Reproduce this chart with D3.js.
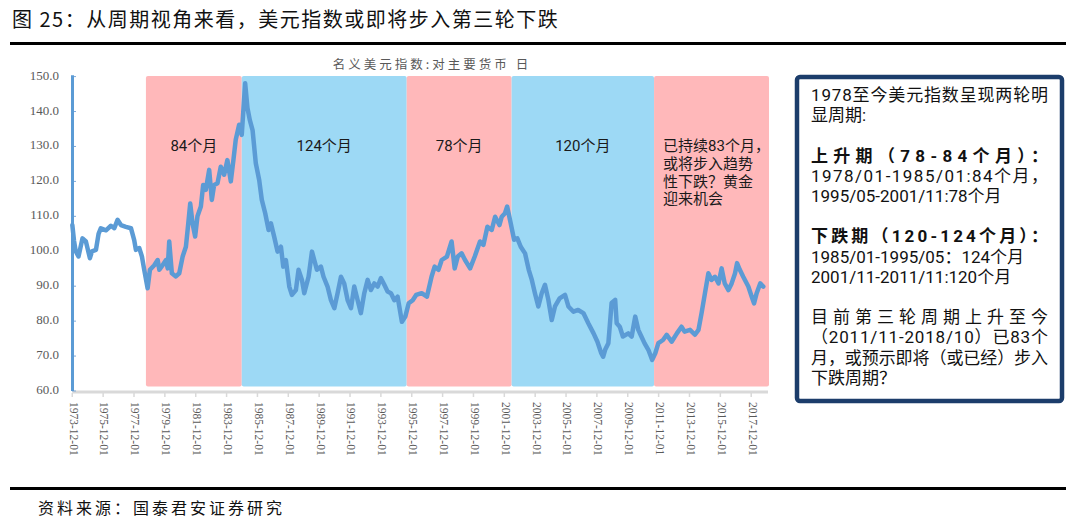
<!DOCTYPE html>
<html><head><meta charset="utf-8">
<script src="https://cdn.jsdelivr.net/npm/d3@7"></script>
<style>html,body{margin:0;padding:0;background:#fff;}svg{display:block;}</style>
</head><body>
<script>
// ---------- data ----------
const years = [1973.92,1974.03,1974.14,1974.32,1974.58,1974.8,1975.06,1975.19,1975.45,1975.62,1975.77,1976.1,1976.42,1976.64,1976.85,1977.07,1977.39,1977.72,1977.93,1978.04,1978.26,1978.43,1978.58,1978.8,1978.95,1979.23,1979.45,1979.56,1979.77,1979.99,1980.1,1980.2,1980.37,1980.63,1980.85,1981.07,1981.28,1981.39,1981.56,1981.71,1981.88,1982.03,1982.25,1982.4,1982.57,1982.79,1982.96,1983.11,1983.33,1983.54,1983.76,1983.97,1984.19,1984.36,1984.51,1984.73,1984.9,1985.12,1985.27,1985.42,1985.6,1985.81,1986.03,1986.2,1986.42,1986.64,1986.79,1987.0,1987.22,1987.44,1987.59,1987.76,1987.98,1988.15,1988.41,1988.58,1988.8,1988.95,1989.23,1989.45,1989.6,1989.77,1990.03,1990.2,1990.46,1990.68,1990.9,1991.11,1991.33,1991.54,1991.76,1991.98,1992.19,1992.41,1992.62,1992.84,1993.06,1993.27,1993.49,1993.71,1993.92,1994.14,1994.35,1994.57,1994.79,1995.0,1995.28,1995.5,1995.72,1995.98,1996.2,1996.56,1996.9,1997.2,1997.4,1997.65,1997.86,1998.2,1998.5,1998.7,1998.9,1999.15,1999.37,1999.7,2000.0,2000.34,2000.56,2000.82,2001.1,2001.32,2001.6,2001.75,2001.96,2002.1,2002.33,2002.55,2002.76,2002.98,2003.26,2003.5,2003.7,2003.9,2004.12,2004.34,2004.55,2004.77,2004.99,2005.2,2005.5,2005.85,2006.07,2006.4,2006.7,2007.04,2007.36,2007.7,2007.95,2008.2,2008.32,2008.45,2008.66,2008.87,2009.1,2009.2,2009.4,2009.6,2009.95,2010.17,2010.4,2010.6,2010.8,2011.0,2011.25,2011.5,2011.7,2011.9,2012.2,2012.44,2012.76,2013.1,2013.4,2013.6,2013.95,2014.27,2014.5,2014.7,2014.92,2015.14,2015.35,2015.57,2015.8,2016.0,2016.2,2016.44,2016.65,2016.87,2017.0,2017.18,2017.4,2017.73,2017.95,2018.1,2018.27,2018.5,2018.7];
const usdIndex = [107.5,103,100,98.5,103.7,102.8,98,100,100.4,105,106.6,106,107.3,106.6,109,107.5,107,106.6,103.2,100.4,100.9,98.5,94.7,89.4,94.7,96,97.5,94.7,96,97.5,95.1,102.8,93.7,92.8,93.7,98.5,101.3,106,113.7,108,104.2,110,112.8,119,117.6,123.3,114.7,119,119.5,124.2,121.9,126.1,120,126.1,131.9,136.2,133.3,148.1,141,137.6,134.7,125.2,120.4,114.7,110.9,106.1,108,104.2,99.9,101.3,95.6,97.5,89.9,87.5,88.9,94.7,91.8,88,92.7,99.9,97.5,94.7,95.6,92.7,89.9,86,83.7,88,92.7,90.8,86,83.7,89.9,86,82.3,88,91.8,88.9,90.8,89.9,92.3,90.4,88.5,88,86,87,79.8,81.3,85.1,86,87.5,88,87,92.7,95.6,94.7,97.5,98.5,102.8,95.1,98.5,99.4,97.5,95.1,98.5,102.8,101.8,107,106.1,109.9,107.5,109.9,110.9,112.8,108,103.3,103.7,101.3,99.4,94.7,91.8,88,84.2,88,90.4,86.1,80.3,84.2,86.5,87.5,84.2,82.7,83.2,82.3,79.4,76.5,74.1,70.8,69.8,71.8,73.7,85.2,86.1,79.4,78.4,75.6,76.5,75.6,81.3,77.5,75.6,73.7,71.8,68.9,70.8,73.7,74.6,76.1,74.1,76.5,78.4,77,77.5,76.1,77.5,82.3,88,93.7,91.8,92.7,90.8,95.1,90.8,88.9,90.8,93.7,96.6,94.7,92.7,89.9,87,85.1,88,90.8,89.9];

const xTickLabels = ["1973-12-01","1975-12-01","1977-12-01","1979-12-01","1981-12-01","1983-12-01","1985-12-01","1987-12-01","1989-12-01","1991-12-01","1993-12-01","1995-12-01","1997-12-01","1999-12-01","2001-12-01","2003-12-01","2005-12-01","2007-12-01","2009-12-01","2011-12-01","2013-12-01","2015-12-01","2017-12-01"];
const yTicks = [60,70,80,90,100,110,120,130,140,150];

const bandStart = [1978.69,1984.90,1995.59,2002.39,2011.62];
const bandEnd   = [1984.90,1995.59,2002.39,2011.62,2019.07];
const bandType  = ["up","down","up","down","up"];
const bandLabel = [["84个月"],["124个月"],["78个月"],["120个月"],["已持续83个月，","或将步入趋势","性下跌？黄金","迎来机会"]];

const titleText = "图 25：从周期视角来看，美元指数或即将步入第三轮下跌";
const subTitle = "名义美元指数:对主要货币 日";
const sourceText = "资料来源：国泰君安证券研究";
const noteLines = [
  {t:"1978至今美元指数呈现两轮明", b:false, j:true},
  {t:"显周期:", b:false, j:false},
  {t:"", b:false, j:false},
  {t:"上升期（78-84个月）：", b:true, j:true},
  {t:"1978/01-1985/01:84个月，", b:false, j:true},
  {t:"1995/05-2001/11:78个月", b:false, j:false},
  {t:"", b:false, j:false},
  {t:"下跌期（120-124个月）：", b:true, j:true},
  {t:"1985/01-1995/05：124个月", b:false, j:false},
  {t:"2001/11-2011/11:120个月", b:false, j:false},
  {t:"", b:false, j:false},
  {t:"目前第三轮周期上升至今", b:false, j:true},
  {t:"（2011/11-2018/10）已83个", b:false, j:true},
  {t:"月，或预示即将（或已经）步入", b:false, j:true},
  {t:"下跌周期？", b:false, j:false}
];

// ---------- drawing ----------
const W = 1080, H = 526;
const svg = d3.select("body").append("svg").attr("width", W).attr("height", H);
svg.append("rect").attr("width", W).attr("height", H).attr("fill", "#fff");

const sans = "'Noto Sans CJK SC','Noto Sans',sans-serif";
const tight = "Roboto,'Noto Sans CJK SC',sans-serif";
const serif = "'Liberation Serif','DejaVu Serif',serif";

// title
svg.append("text").attr("x", 12).attr("y", 27).attr("font-family", sans)
  .attr("font-size", 20).attr("fill", "#111").attr("letter-spacing", 1.5).text(titleText);
svg.append("rect").attr("x", 10).attr("y", 42).attr("width", 1056).attr("height", 3).attr("fill", "#000");

// footer
svg.append("rect").attr("x", 10).attr("y", 487).attr("width", 1056).attr("height", 3).attr("fill", "#000");
svg.append("text").attr("x", 38).attr("y", 514).attr("font-family", sans)
  .attr("font-size", 16).attr("letter-spacing", 3).attr("fill", "#111").text(sourceText);

// scales
const x = d3.scaleLinear().domain([1973.92, 2019.07]).range([72.33, 769]);
const y = d3.scaleLinear().domain([60, 150]).range([391, 76.6]);

// bands
const bandColor = {up: "#ffb8ba", down: "#9dd9f5"};
svg.append("g").selectAll("rect").data(bandStart).join("rect")
  .attr("x", (d) => x(d))
  .attr("width", (d, i) => x(bandEnd[i]) - x(d))
  .attr("y", y(150.15))
  .attr("height", y(61.3) - y(150.15))
  .attr("rx", 2)
  .attr("fill", (d, i) => bandColor[bandType[i]]);

// band labels
bandLabel.forEach((lines, i) => {
  const multi = lines.length > 1;
  const cx = multi ? x(bandStart[i]) + 9 : (x(bandStart[i]) + x(bandEnd[i])) / 2;
  lines.forEach((ln, k) => {
    svg.append("text").attr("font-family", tight).attr("font-size", 15)
      .attr("fill", "#1a1a1a").attr("text-anchor", multi ? "start" : "middle")
      .attr("x", cx).attr("y", 151 + k * 17.8).text(ln);
  });
});

// subtitle
svg.append("text").attr("x", 432).attr("y", 69).attr("text-anchor", "middle")
  .attr("font-family", sans).attr("font-size", 12.5).attr("letter-spacing", 3)
  .attr("fill", "#595959").text(subTitle);

// x axis
const xTickPos = xTickLabels.map(s => +s.slice(0, 4) + 11 / 12);
svg.append("line").attr("x1", x(1973.92)).attr("x2", 768).attr("y1", y(60) + 1).attr("y2", y(60) + 1)
  .attr("stroke", "#d9d9d9").attr("stroke-width", 3);
const xg = svg.append("g");
xg.selectAll("line").data(xTickPos).join("line")
  .attr("x1", d => x(d)).attr("x2", d => x(d))
  .attr("y1", y(60) + 2).attr("y2", y(60) + 6)
  .attr("stroke", "#d9d9d9").attr("stroke-width", 1.5);
xg.selectAll("text").data(xTickLabels).join("text")
  .attr("transform", (d, i) => `translate(${x(xTickPos[i])},${y(60) + 11}) rotate(90)`)
  .attr("dominant-baseline", "middle").attr("text-anchor", "start")
  .attr("font-family", serif).attr("font-size", 11.5).attr("fill", "#595959").text(d => d);

// y axis
const yg = svg.append("g");
yg.selectAll("text").data(yTicks).join("text")
  .attr("x", 59).attr("y", d => y(d)).attr("dominant-baseline", "middle")
  .attr("text-anchor", "end").attr("font-family", serif).attr("font-size", 13)
  .attr("fill", "#595959").text(d => d.toFixed(1));
yg.selectAll("line").data(yTicks).join("line")
  .attr("x1", 72).attr("x2", 76).attr("y1", d => y(d)).attr("y2", d => y(d))
  .attr("stroke", "#7fa9d8").attr("stroke-width", 1);
svg.append("line").attr("x1", 72.5).attr("x2", 72.5).attr("y1", y(150.4)).attr("y2", y(60))
  .attr("stroke", "#5b9bd5").attr("stroke-width", 3);

// series line
const line = d3.line().x((d, i) => x(years[i])).y(d => y(d));
svg.append("path").datum(usdIndex).attr("d", line)
  .attr("fill", "none").attr("stroke", "#5b9bd5").attr("stroke-width", 4.5)
  .attr("stroke-linejoin", "round").attr("stroke-linecap", "round");

// note box
svg.append("rect").attr("x", 797).attr("y", 77).attr("width", 265).attr("height", 324)
  .attr("rx", 3).attr("fill", "#fff").attr("stroke", "#1c3d6b").attr("stroke-width", 4.5);
const noteG = svg.append("g").attr("font-family", tight).attr("font-size", 17).attr("fill", "#111");
noteLines.forEach((ln, k) => {
  if (!ln.t) return;
  const t = noteG.append("text").attr("x", 811).attr("y", 101 + k * 20.2)
    .attr("font-weight", ln.b ? 700 : 400).text(ln.t);
  if (ln.j) t.attr("textLength", 237).attr("lengthAdjust", "spacing");
});
</script>
</body></html>
